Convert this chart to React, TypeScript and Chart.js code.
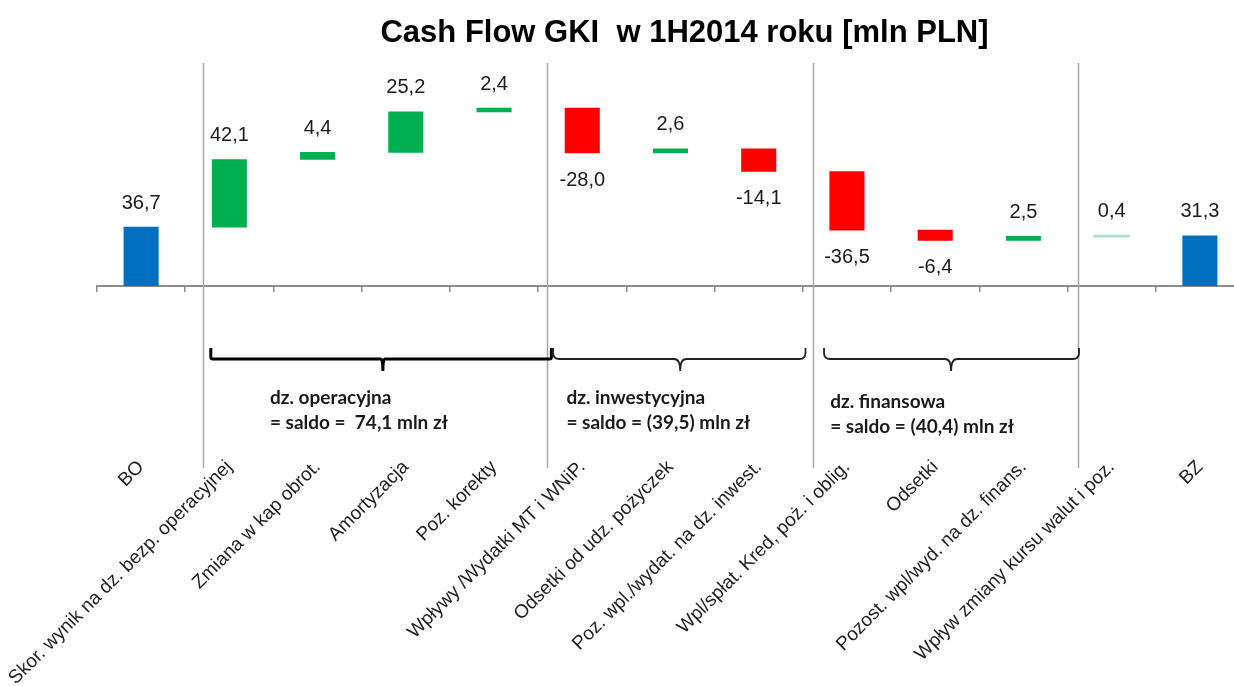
import React, { useEffect, useRef } from "react";
import { Chart, registerables } from "chart.js";

Chart.register(...registerables);

// ---- data ----
const categories: string[] = [
  "BO",
  "Skor. wynik na dz. bezp. operacyjnej",
  "Zmiana w kap obrot.",
  "Amortyzacja",
  "Poz. korekty",
  "Wpływy /Wydatki MT i WNiP.",
  "Odsetki od udz. pożyczek",
  "Poz. wpl./wydat. na dz. inwest.",
  "Wpl/spłat. Kred, poż. i oblig.",
  "Odsetki",
  "Pozost. wpl/wyd. na dz. finans.",
  "Wpływ zmiany kursu walut i poz.",
  "BZ",
];
const values: number[] = [36.7, 42.1, 4.4, 25.2, 2.4, -28.0, 2.6, -14.1, -36.5, -6.4, 2.5, 0.4, 31.3];
const isTotal: boolean[] = [true, false, false, false, false, false, false, false, false, false, false, false, true];
const valueLabels: string[] = ["36,7", "42,1", "4,4", "25,2", "2,4", "-28,0", "2,6", "-14,1", "-36,5", "-6,4", "2,5", "0,4", "31,3"];
const titleText = "Cash Flow GKI  w 1H2014 roku [mln PLN]";
const groupTitles: string[] = ["dz. operacyjna", "dz. inwestycyjna", "dz. finansowa"];
const groupSaldo: string[] = ["= saldo =  74,1 mln zł", "= saldo = (39,5) mln zł", "= saldo = (40,4) mln zł"];
// group spans (category index units): [start, end, tip]
const groupSpans: number[][] = [
  [0.79, 4.65, 2.74],
  [4.67, 7.53, 6.11],
  [7.74, 10.63, 9.18],
];
const groupTextAt: number[] = [1.46, 4.82, 7.81];
const separatorsAt: number[] = [0.7, 4.6, 7.61, 10.62];

const BLUE = "#0070C0";
const GREEN = "#00B050";
const RED = "#FF0000";
const PALE = "#a8dcd3";
const FONT = "'Liberation Sans', Arial, sans-serif";

function buildBars() {
  const data: [number, number][] = [];
  let run = 0;
  values.forEach((v, i) => {
    if (isTotal[i]) {
      data.push([0, v]);
      run = v;
    } else {
      data.push([run, run + v]);
      run += v;
    }
  });
  return data;
}

function drawBrace(
  ctx: CanvasRenderingContext2D,
  x1: number,
  x2: number,
  xm: number,
  yTop: number,
  yLine: number,
  yTip: number,
  r: number
) {
  ctx.beginPath();
  ctx.moveTo(x1, yTop);
  ctx.lineTo(x1, yLine - r);
  ctx.quadraticCurveTo(x1, yLine, x1 + r, yLine);
  ctx.lineTo(xm - r, yLine);
  ctx.quadraticCurveTo(xm, yLine, xm, yTip);
  ctx.quadraticCurveTo(xm, yLine, xm + r, yLine);
  ctx.lineTo(x2 - r, yLine);
  ctx.quadraticCurveTo(x2, yLine, x2, yLine - r);
  ctx.lineTo(x2, yTop);
  ctx.stroke();
}

const annotationsPlugin = {
  id: "cfAnnotations",
  afterDatasetsDraw(chart: any) {
    const ctx: CanvasRenderingContext2D = chart.ctx;
    const xs = chart.scales.x;
    const area = chart.chartArea;
    ctx.save();

    // title
    ctx.fillStyle = "#000";
    ctx.font = `bold 31px ${FONT}`;
    ctx.textAlign = "center";
    ctx.textBaseline = "middle";
    ctx.fillText(titleText, (area.left + area.right) / 2 + 14, 33);

    // separators
    ctx.strokeStyle = "#a6a6a6";
    ctx.lineWidth = 1.5;
    separatorsAt.forEach((v) => {
      const x = Math.round(xs.getPixelForValue(v)) + 0.5;
      ctx.beginPath();
      ctx.moveTo(x, area.top - 3);
      ctx.lineTo(x, area.bottom + 182);
      ctx.stroke();
    });

    // braces
    groupSpans.forEach((g, i) => {
      ctx.strokeStyle = i === 0 ? "#000" : "#222";
      ctx.lineWidth = i === 0 ? 3 : 1.8;
      drawBrace(
        ctx,
        xs.getPixelForValue(g[0]),
        xs.getPixelForValue(g[1]),
        xs.getPixelForValue(g[2]),
        area.bottom + 62,
        area.bottom + 73,
        area.bottom + 85,
        i === 0 ? 2 : 6
      );
    });

    // group texts
    ctx.fillStyle = "#1a1a1a";
    ctx.font = "bold 19px Lato, 'Open Sans', sans-serif";
    ctx.textAlign = "left";
    ctx.textBaseline = "middle";
    groupTitles.forEach((t, i) => {
      const x = xs.getPixelForValue(groupTextAt[i]);
      const dy = i === 2 ? 4 : 0;
      ctx.fillText(t, x, area.bottom + 112 + dy);
      ctx.fillText(groupSaldo[i], x, area.bottom + 137 + dy);
    });

    // value labels
    const meta = chart.getDatasetMeta(0);
    ctx.fillStyle = "#1a1a1a";
    ctx.font = `20px ${FONT}`;
    ctx.textAlign = "center";
    meta.data.forEach((el: any, i: number) => {
      const top = Math.min(el.y, el.base);
      const bottom = Math.max(el.y, el.base);
      const y = values[i] >= 0 ? top - 24 : bottom + 27;
      ctx.fillText(valueLabels[i], el.x, y);
    });

    ctx.restore();
  },
};

export default function App() {
  const canvasRef = useRef<HTMLCanvasElement | null>(null);

  useEffect(() => {
    document.body.style.overflow = "hidden";
    document.documentElement.style.overflow = "hidden";
    const canvas = canvasRef.current;
    if (!canvas) return;
    const bars = buildBars();
    const colors = values.map((v, i) =>
      isTotal[i] ? BLUE : Math.abs(v) < 1 ? PALE : v >= 0 ? GREEN : RED
    );
    const inflate = values.map((v) => (Math.abs(v) < 1 ? 1 : 0.33));
    const chart = new Chart(canvas, {
      type: "bar",
      data: {
        labels: categories,
        datasets: [
          {
            data: bars as any,
            backgroundColor: colors,
            borderWidth: 0,
            barPercentage: 0.39,
            categoryPercentage: 1,
            inflateAmount: inflate as any,
          } as any,
        ],
      },
      options: {
        responsive: false,
        maintainAspectRatio: false,
        animation: false,
        layout: { padding: { left: 97, right: 16, top: 66, bottom: 0 } },
        plugins: {
          legend: { display: false },
          tooltip: { enabled: false },
          title: { display: false },
        },
        scales: {
          x: {
            type: "category",
            offset: true,
            grid: {
              display: true,
              drawOnChartArea: false,
              drawTicks: true,
              tickLength: 6,
              color: "#8c8c8c",
              lineWidth: 1.5,
              offset: true,
            },
            border: { display: true, color: "#8c8c8c", width: 2 },
            ticks: {
              autoSkip: false,
              minRotation: 45,
              maxRotation: 45,
              padding: 164,
              color: "#1e1e1e",
              font: { family: FONT, size: 19 },
            },
            afterFit: (scale: any) => {
              scale.height = 400;
              scale.paddingLeft = 0;
              scale.paddingRight = 0;
            },
          } as any,
          y: {
            display: false,
            min: 0,
            max: 137,
          },
        },
      },
      plugins: [annotationsPlugin],
    });
    return () => chart.destroy();
  }, []);

  return (
    <div style={{ position: "fixed", left: 0, top: 0, width: 1260, height: 686, background: "#fff" }}>
      <canvas ref={canvasRef} width={1260} height={686} style={{ width: 1260, height: 686, display: "block" }} />
    </div>
  );
}
